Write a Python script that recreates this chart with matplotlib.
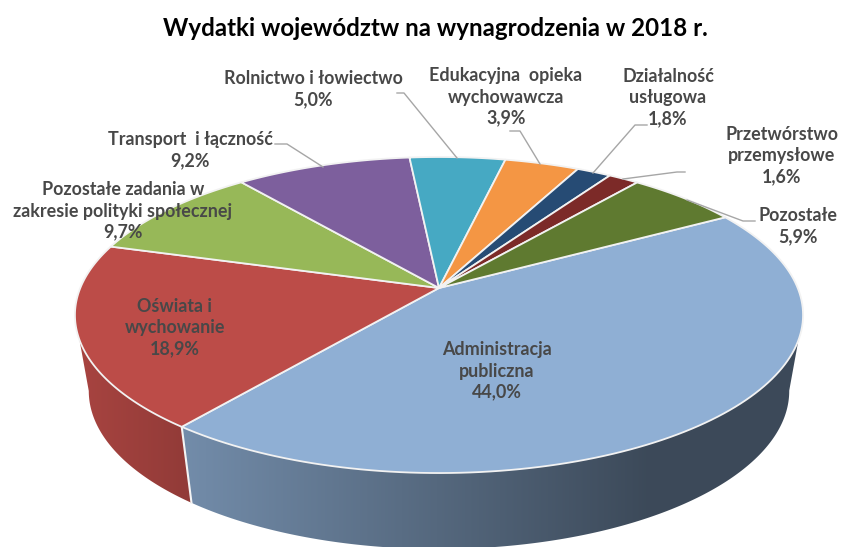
import numpy as np
import matplotlib
matplotlib.use("Agg")
import matplotlib.pyplot as plt
from matplotlib.colors import to_rgb
from matplotlib.patches import Polygon

title = "Wydatki województw na wynagrodzenia w 2018 r."
categories = ["Administracja\npubliczna", "Oświata i\nwychowanie",
              "Pozostałe zadania w\nzakresie polityki społecznej",
              "Transport  i łączność", "Rolnictwo i łowiectwo",
              "Edukacyjna  opieka\nwychowawcza", "Działalność\nusługowa",
              "Przetwórstwo\nprzemysłowe", "Pozostałe"]
shares = [44.0, 18.9, 9.7, 9.2, 5.0, 3.9, 1.8, 1.6, 5.9]
colors = ["#8fafd4", "#bc4c48", "#97b858", "#7d5f9d", "#46a9c3",
          "#f49644", "#264b74", "#7c2a28", "#5f7a30"]

W, H = 841, 547
START = 30.0
CX, CY = 439.0, 288.0
RX, RY, K = 358.7, 153.4, 0.171
WALL_DY, WALL_SX = 76.0, 0.962
FONT = "Lato"
GREY = "#484848"

plt.rcParams["font.family"] = [FONT, "DejaVu Sans"]
fig = plt.figure(figsize=(W / 100, H / 100), dpi=100)
ax = fig.add_axes([0, 0, 1, 1])
ax.set_xlim(0, W)
ax.set_ylim(H, 0)
ax.axis("off")


def project(deg):
    a = np.radians(deg)
    u, v = np.cos(a), np.sin(a)
    w = 1 + K * v
    return CX + RX * u / w, CY - RY * v / w


def wall_point(deg):
    x, y = project(deg)
    return CX + (x - CX) * WALL_SX, y + WALL_DY


# wedge angle limits, running clockwise from START
edges = START - np.cumsum([0] + shares) * 3.6

# side wall: a horizontal colour ramp clipped to each visible wedge's wall,
# each wall running from the front seam out to the pie's silhouette
wall_ramps = {0: (0.80, 0.42, 185, 650), 1: (0.89, 0.78, 80, 185)}
xgrid = np.arange(0, W + 1)
for i, (s0, s1, x0, x1) in wall_ramps.items():
    a = np.linspace(edges[i], edges[i + 1], 400)
    tx0, _ = project(a)
    a = a[np.argmax(tx0):] if i == 0 else a[:np.argmin(tx0) + 1]
    tx, ty = project(a)
    bx, by = wall_point(a)
    poly = Polygon(np.c_[np.r_[tx, bx[::-1]], np.r_[ty, by[::-1]]], closed=True,
                   transform=ax.transData, facecolor="none", edgecolor="none")
    ax.add_patch(poly)
    t = np.clip((xgrid - x0) / (x1 - x0), 0, 1)
    shade = (s0 + (s1 - s0) * t)[None, :, None] * np.array(to_rgb(colors[i]))[None, None, :]
    im = ax.imshow(shade, extent=(0, W, H, 0), aspect="auto", zorder=1, interpolation="bilinear")
    im.set_clip_path(poly)
ax.set_xlim(0, W)
ax.set_ylim(H, 0)

# white seam on the wall between the two front slices
sx0, sy0 = project(edges[1])
sx1, sy1 = wall_point(edges[1])
ax.plot([sx0, sx1], [sy0, sy1], color="#f4f4f4", lw=1.5, zorder=2)

# top surface
for i, col in enumerate(colors):
    a = np.linspace(edges[i], edges[i + 1], 120)
    px, py = project(a)
    ax.fill(np.r_[CX, px], np.r_[CY, py], facecolor=col, edgecolor="#f2f2f2",
            lw=1.3, joinstyle="round", zorder=3)

# leader lines
leaders = [
    ([397, 404, 457], [93, 93, 158]),
    ([275, 287, 323], [144, 144, 167]),
    ([510, 520, 540], [131, 131, 164]),
    ([647, 635, 593], [125, 125, 173]),
    ([685, 677, 623], [172, 172, 179]),
    ([755, 743, 687], [221, 221, 200]),
]
for lx, ly in leaders:
    ax.plot(lx, ly, color="#a6a6a6", lw=1.0, zorder=4)

# labels
label_pos = [(497, 371), (175, 328), (123, 211), (190, 150), (313, 89),
             (506, 97), (668, 98), (782, 156), (798, 226)]
for name, share, (x, y) in zip(categories, shares, label_pos):
    txt = f"{name}\n{share:.1f}%".replace(".", ",")
    ax.text(x, y, txt, ha="center", va="center", fontsize=12.9, color=GREY,
            fontweight="bold", linespacing=1.3, zorder=5)

ax.text(435, 29, title, ha="center", va="center", fontsize=17.4,
        fontweight="bold", color="black")

fig.savefig("out.png", dpi=100)
